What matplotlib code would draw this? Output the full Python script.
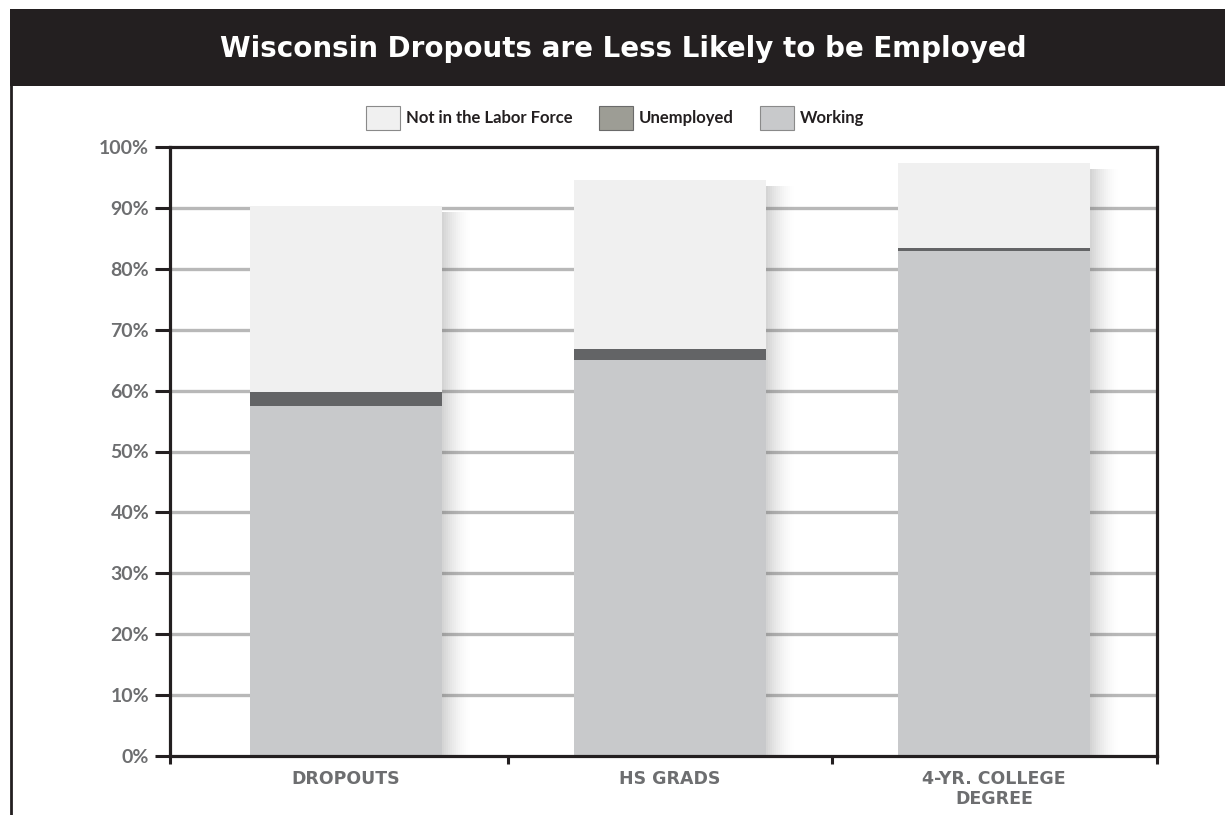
import matplotlib
matplotlib.use("Agg")
import matplotlib.pyplot as plt
from matplotlib.patches import Rectangle, Patch
from matplotlib.lines import Line2D
import numpy as np

categories = ["DROPOUTS", "HS GRADS", "4-YR. COLLEGE\nDEGREE"]
working = [57.4, 65.1, 82.9]
unemployed = [2.3, 1.8, 0.5]
not_in_lf = [30.6, 27.7, 14.0]
yticks = [0, 10, 20, 30, 40, 50, 60, 70, 80, 90, 100]
ytick_labels = [f"{v}%" for v in yticks]
title = "Wisconsin Dropouts are Less Likely to be Employed"
legend_labels = ["Not in the Labor Force", "Unemployed", "Working"]

c_work = "#c8c9cb"
c_unemp = "#636466"
c_unemp_leg = "#9d9d95"
c_nilf = "#f0f0f0"
c_text = "#6d6e70"
c_grid = "#b8b8b8"

plt.rcParams['font.family'] = ['Lato', 'DejaVu Sans']

fig = plt.figure(figsize=(12.25, 8.15), dpi=100)
fig.patch.set_facecolor("white")

# title bar
fig.patches.append(Rectangle((10/1225, 1-86/815), 1-10/1225, 77/815,
                             transform=fig.transFigure, facecolor="#231f20",
                             edgecolor="none", zorder=0))
fig.lines.append(Line2D([11/1225, 11/1225], [0, 1-86/815], transform=fig.transFigure,
                        color="#231f20", lw=2.0))
fig.text(623/1225, 1-49/815, title, color="white", fontsize=20, fontweight="bold",
         family=["DejaVu Sans"], ha="center", va="center")

ax = fig.add_axes([170/1225, 1-756/815, (1157-170)/1225, (756-147)/815])
x = np.arange(len(categories))
w = 0.595
ax.set_xlim(-0.543, 2.503)
ax.set_ylim(0, 100)

# gridlines
for v in yticks[1:-1]:
    ax.axhline(v, color=c_grid, lw=2.4, zorder=0)

working = np.array(working)
unemployed = np.array(unemployed)
not_in_lf = np.array(not_in_lf)
totals = working + unemployed + not_in_lf

# shadows
n = 14
dx = 0.085 / n
for i in range(n):
    a = 0.25 * (1 - i / n) ** 1.6
    ax.bar(x + w/2 + (i + 0.5) * dx, totals - 1.0, width=dx, color="#555555",
           alpha=a, lw=0, zorder=1)

ax.bar(x, working, width=w, color=c_work, lw=0, zorder=2)
ax.bar(x, unemployed, bottom=working, width=w, color=c_unemp, lw=0, zorder=2)
ax.bar(x, not_in_lf, bottom=working + unemployed, width=w, color=c_nilf, lw=0, zorder=2)

for s in ax.spines.values():
    s.set_linewidth(2.3)
    s.set_color("#231f20")
    s.set_zorder(5)

ax.set_yticks(yticks)
ax.set_yticklabels(ytick_labels)
ax.tick_params(axis="y", direction="out", length=11, width=2.2, color="#231f20",
               labelsize=14, labelcolor=c_text, pad=4)
for t in ax.get_yticklabels():
    t.set_fontweight("bold")

ax.set_xticks(x)
ax.set_xticklabels(categories)
ax.tick_params(axis="x", which="major", length=0, labelsize=12.5, labelcolor=c_text, pad=10)
for t in ax.get_xticklabels():
    t.set_fontweight("bold")
    t.set_family(["DejaVu Sans"])
    t.set_linespacing(1.15)
ax.set_xticks([-0.543, 0.5, 1.5, 2.503], minor=True)
ax.tick_params(axis="x", which="minor", direction="out", length=6, width=2.2, color="#231f20")

# legend
handles = [Patch(facecolor=c_nilf, edgecolor="#8a8a8a", lw=0.8),
           Patch(facecolor=c_unemp_leg, edgecolor="#6a6a6a", lw=0.8),
           Patch(facecolor=c_work, edgecolor="#8a8a8a", lw=0.8)]
leg = fig.legend(handles, legend_labels, loc="center", bbox_to_anchor=(615/1225, 1-118/815),
                 ncol=3, frameon=False, prop={"size": 12, "weight": "bold"},
                 handlelength=2.04, handleheight=1.8, handletextpad=0.36, columnspacing=1.56)
for t in leg.get_texts():
    t.set_color("#231f20")

fig.savefig("out.png", dpi=100)
